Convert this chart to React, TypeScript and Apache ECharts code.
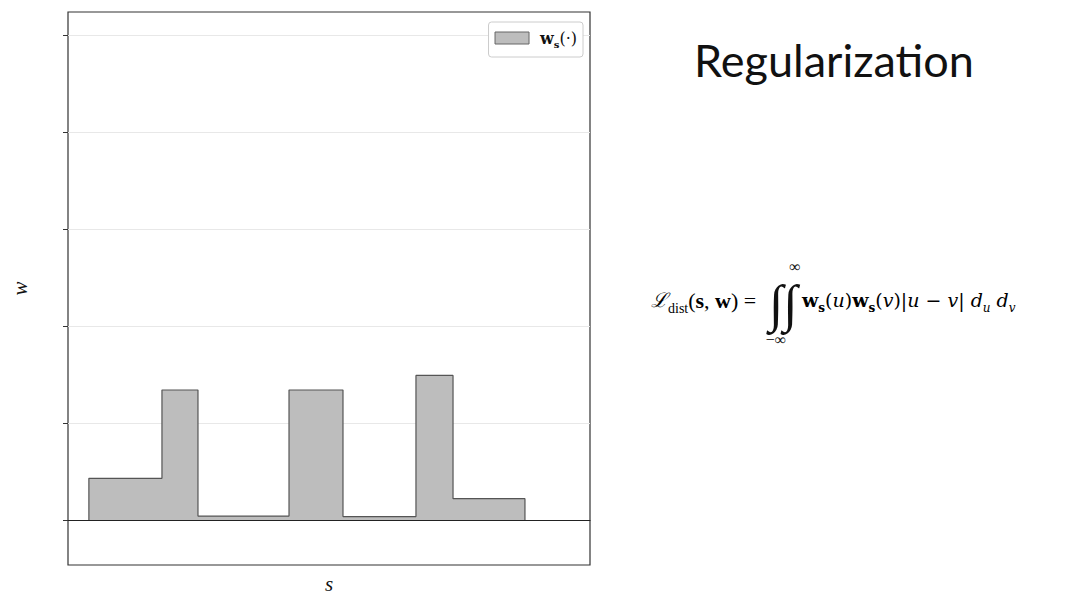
import React, { useEffect, useRef } from "react";
import * as echarts from "echarts";

// bin edges along s and step heights (units of the w axis)
const binEdges = [0.2, 0.9, 1.245, 2.117, 2.634, 3.333, 3.688, 4.377];
const binHeights = [0.43, 1.34, 0.04, 1.34, 0.035, 1.49, 0.22];
const yTickValues = [0, 1, 2, 3, 4, 5];
const seriesName = "ws";
const titleText = "Regularization";

function stepPoints(): number[][] {
  const pts: number[][] = [[binEdges[0], 0]];
  for (let i = 0; i < binHeights.length; i++) {
    pts.push([binEdges[i], binHeights[i]]);
    pts.push([binEdges[i + 1], binHeights[i]]);
  }
  pts.push([binEdges[binEdges.length - 1], 0]);
  return pts;
}

export default function App() {
  const ref = useRef<HTMLDivElement>(null);
  useEffect(() => {
    if (!ref.current) return;
    const chart = echarts.init(ref.current, undefined, { renderer: "svg" });
    const serif = "'Liberation Serif', 'DejaVu Serif', serif";
    const mserif = "'DejaVu Serif', 'Liberation Serif', serif";
    const fs = 19;
    const sfs = 12;
    const mathRich: any = {
      m: { fontFamily: mserif, fontSize: fs, color: "#111" },
      b: { fontFamily: mserif, fontSize: fs, fontWeight: "bold", color: "#111" },
      i: { fontFamily: mserif, fontSize: fs, fontStyle: "italic", color: "#111" },
      bs: { fontFamily: mserif, fontSize: sfs, fontWeight: "bold", color: "#111", verticalAlign: "bottom", padding: [0, 0, -4, 0] },
      is: { fontFamily: mserif, fontSize: sfs, fontStyle: "italic", color: "#111", verticalAlign: "bottom", padding: [0, 0, -4, 0] },
    };
    const leftRich: any = {
      L: { fontFamily: mserif, fontSize: 20, fontStyle: "italic", color: "#111" },
      sub: { fontFamily: serif, fontSize: 14, color: "#111", verticalAlign: "bottom", padding: [0, 0, -4, 0] },
      m: { fontFamily: serif, fontSize: 22, color: "#111" },
      b: { fontFamily: serif, fontSize: 22, fontWeight: "bold", color: "#111" },
    };
    chart.setOption({
      animation: false,
      backgroundColor: "#ffffff",
      grid: {
        left: 68,
        top: 12,
        width: 522,
        height: 553,
        show: true,
        borderColor: "#333",
        borderWidth: 1.2,
        containLabel: false,
        outerBoundsMode: "none",
      },
      xAxis: {
        type: "value",
        min: 0,
        max: 5,
        name: "s",
        nameLocation: "middle",
        nameGap: 8,
        nameTextStyle: { fontFamily: serif, fontStyle: "italic", fontSize: 21, color: "#111" },
        axisLine: { show: true, onZero: true, lineStyle: { color: "#222", width: 1.2 } },
        axisTick: { show: false },
        axisLabel: { show: false },
        splitLine: { show: false },
      },
      yAxis: {
        type: "value",
        min: -0.464,
        max: 5.237,
        name: "w",
        nameLocation: "middle",
        nameRotate: 90,
        nameGap: 38,
        nameTextStyle: { fontFamily: serif, fontStyle: "italic", fontSize: 21, color: "#111" },
        axisLine: { show: false },
        axisTick: { show: true, length: 5, customValues: yTickValues, lineStyle: { color: "#333" } },
        axisLabel: { show: false, customValues: yTickValues },
        splitLine: { show: true, lineStyle: { color: "#e8e8e8", width: 1 } },
      },
      legend: {
        right: 497,
        top: 22,
        orient: "vertical",
        itemWidth: 34,
        itemHeight: 12,
        itemGap: 10,
        padding: [8, 6, 8, 6],
        borderColor: "#cccccc",
        borderWidth: 1,
        borderRadius: 3,
        backgroundColor: "#fff",
        data: [
          {
            name: seriesName,
            icon: "rect",
            itemStyle: { color: "#bdbdbd", borderColor: "#666", borderWidth: 1 },
          },
        ],
        formatter: () => "{b|w}{s|s}{m|(·)}",
        textStyle: {
          padding: [0, 0, 0, 6],
          rich: {
            b: { fontFamily: mserif, fontWeight: "bold", fontSize: 16, color: "#111" },
            s: { fontFamily: mserif, fontWeight: "bold", fontSize: 10, color: "#111", verticalAlign: "bottom", padding: [0, 0, -3, 0] },
            m: { fontFamily: mserif, fontSize: 16, color: "#111" },
          },
        },
      },
      series: [
        {
          name: seriesName,
          type: "line",
          data: stepPoints(),
          symbol: "none",
          lineStyle: { color: "#555", width: 1.2 },
          itemStyle: { color: "#bdbdbd" },
          areaStyle: { color: "#bdbdbd", opacity: 1 },
          z: 3,
        },
      ],
      graphic: [
        {
          type: "text",
          x: 834,
          y: 60,
          style: {
            text: titleText,
            fontFamily: "Lato, 'Open Sans', sans-serif",
            fontSize: 45,
            fill: "#111",
            align: "center",
            verticalAlign: "middle",
          },
        },
        {
          type: "text",
          x: 651,
          y: 300,
          style: {
            text: "{L|ℒ}{sub|dist}{m|(}{b|s}{m|, }{b|w}{m|) =}",
            rich: leftRich,
            verticalAlign: "middle",
            align: "left",
          },
        },
        {
          type: "text",
          x: 769,
          y: 303,
          style: { text: "∫∫", fontFamily: serif, fontSize: 52, fill: "#111", verticalAlign: "middle" },
        },
        {
          type: "text",
          x: 795,
          y: 266,
          style: { text: "∞", fontFamily: serif, fontSize: 16, fill: "#111", align: "center", verticalAlign: "middle" },
        },
        {
          type: "text",
          x: 776,
          y: 339,
          style: { text: "−∞", fontFamily: serif, fontSize: 16, fill: "#111", align: "center", verticalAlign: "middle" },
        },
        {
          type: "text",
          x: 802,
          y: 300,
          style: {
            text: "{b|w}{bs|s}{m|(}{i|u}{m|)}{b|w}{bs|s}{m|(}{i|v}{m|)|}{i|u}{m| − }{i|v}{m|| }{i|d}{is|u}{m| }{i|d}{is|v}",
            rich: mathRich,
            verticalAlign: "middle",
            align: "left",
          },
        },
      ],
    });
    return () => chart.dispose();
  }, []);
  return (
    <div
      ref={ref}
      style={{ position: "fixed", left: 0, top: 0, width: 1080, height: 605, background: "#fff" }}
    />
  );
}
